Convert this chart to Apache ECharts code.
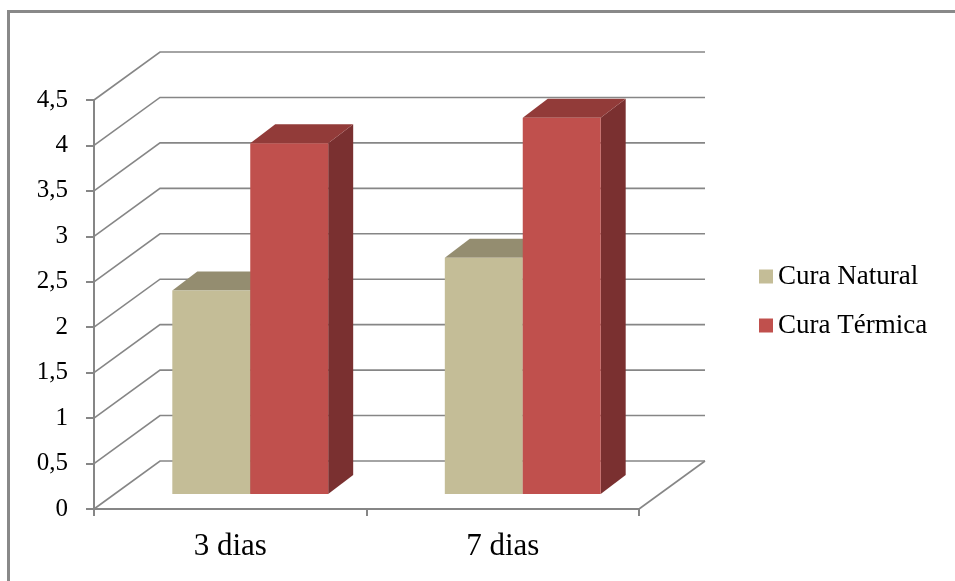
<!DOCTYPE html>
<html>
<head>
<meta charset="utf-8">
<script src="https://cdn.jsdelivr.net/npm/echarts@6/dist/echarts.min.js"></script>
<style>
  html, body { margin: 0; padding: 0; background: #fff; }
  #chart { width: 955px; height: 581px; }
</style>
</head>
<body>
<div id="chart"></div>
<script>
// data
var categories = ['3 dias', '7 dias'];
var curaNatural = [2.24, 2.6];
var curaTermica = [3.86, 4.14];
var yTicks = [0, 0.5, 1, 1.5, 2, 2.5, 3, 3.5, 4, 4.5];
var seriesNames = ['Cura Natural', 'Cura Térmica'];

// oblique 3d look (like the old Excel charts)
var DEPTH_X = 66, DEPTH_Y = -48;       // front plane -> back wall
var BAR_SHIFT_X = 20, BAR_SHIFT_Y = -15; // front plane -> bar front face
var BAR_DX = 25, BAR_DY = -19;         // depth of a bar
var GRID_COLOR = '#868686';

var colors = {
    natural: { front: '#c4bd97', top: '#948d70', side: '#7f7a5f' },
    termica: { front: '#c0504d', top: '#923b39', side: '#7a3030' }
};

document.addEventListener('DOMContentLoaded', function () {
    var chartDom = document.getElementById('chart');
    var myChart = echarts.init(chartDom);

    // back wall lines + diagonals, one item per y tick
    function renderWall(params, api) {
        var cs = params.coordSys;
        var v = api.value(1);
        var y = api.coord([0, v])[1];
        var x0 = cs.x, x1 = cs.x + cs.width;
        var children = [{
            type: 'polyline',
            shape: { points: [[x0, y], [x0 + DEPTH_X, y + DEPTH_Y], [x1 + DEPTH_X, y + DEPTH_Y]] },
            style: { stroke: GRID_COLOR, lineWidth: 1.6, fill: null }
        }];
        if (v === 0) {
            children.push({
                type: 'line',
                shape: { x1: x1, y1: y, x2: x1 + DEPTH_X, y2: y + DEPTH_Y },
                style: { stroke: GRID_COLOR, lineWidth: 1.6 }
            });
        }
        return { type: 'group', children: children };
    }

    function makeBarRenderer(slot, c) {
        return function (params, api) {
            var idx = api.value(0);
            var val = api.value(1);
            var band = api.size([1, 0])[0];
            var barW = band * 0.286;
            var center = api.coord([idx, 0])[0] + BAR_SHIFT_X;
            var yb = api.coord([idx, 0])[1] + BAR_SHIFT_Y;
            var yt = api.coord([idx, val])[1] + BAR_SHIFT_Y;
            var xl = slot === 0 ? center - barW : center;
            var xr = xl + barW;
            return {
                type: 'group',
                children: [
                    {
                        type: 'polygon',
                        shape: { points: [[xr, yt], [xr + BAR_DX, yt + BAR_DY], [xr + BAR_DX, yb + BAR_DY], [xr, yb]] },
                        style: { fill: c.side }
                    },
                    {
                        type: 'polygon',
                        shape: { points: [[xl, yt], [xr, yt], [xr + BAR_DX, yt + BAR_DY], [xl + BAR_DX, yt + BAR_DY]] },
                        style: { fill: c.top }
                    },
                    {
                        type: 'rect',
                        shape: { x: xl, y: yt, width: barW, height: yb - yt },
                        style: { fill: c.front }
                    }
                ]
            };
        };
    }

    var option = {
        animation: false,
        backgroundColor: '#fff',
        textStyle: { fontFamily: 'Liberation Serif' },
        graphic: [{
            type: 'rect',
            shape: { x: 8.5, y: 11.5, width: 1000, height: 620 },
            style: { fill: null, stroke: '#898989', lineWidth: 3 },
            silent: true
        }],
        grid: { left: 94, top: 100, width: 545, height: 409 },
        legend: {
            data: seriesNames,
            orient: 'vertical',
            left: 754,
            top: 258,
            icon: 'rect',
            itemWidth: 14,
            itemHeight: 14,
            itemGap: 22,
            textStyle: { fontFamily: 'Liberation Serif', fontSize: 27, lineHeight: 27, color: '#000' }
        },
        xAxis: {
            type: 'category',
            data: categories,
            axisLine: { lineStyle: { color: GRID_COLOR, width: 2 } },
            axisTick: { show: true, length: 7, lineStyle: { color: GRID_COLOR, width: 2 } },
            axisLabel: { fontFamily: 'Liberation Serif', fontSize: 31, color: '#000', margin: 22 },
            splitLine: { show: false }
        },
        yAxis: {
            type: 'value',
            min: 0,
            max: 4.5,
            interval: 0.5,
            axisLine: { show: true, lineStyle: { color: GRID_COLOR, width: 2 } },
            axisTick: { show: true, length: 8, lineStyle: { color: GRID_COLOR, width: 2 } },
            axisLabel: {
                fontFamily: 'Liberation Serif', fontSize: 25, color: '#000', margin: 26,
                formatter: function (v) { return String(v).replace('.', ','); }
            },
            splitLine: { show: false }
        },
        series: [
            {
                type: 'custom',
                name: 'wall',
                silent: true,
                z: 1,
                renderItem: renderWall,
                data: yTicks.map(function (t) { return [0, t]; })
            },
            {
                type: 'custom',
                name: seriesNames[0],
                z: 2,
                itemStyle: { color: colors.natural.front },
                renderItem: makeBarRenderer(0, colors.natural),
                data: curaNatural.map(function (v, i) { return [i, v]; })
            },
            {
                type: 'custom',
                name: seriesNames[1],
                z: 2,
                itemStyle: { color: colors.termica.front },
                renderItem: makeBarRenderer(1, colors.termica),
                data: curaTermica.map(function (v, i) { return [i, v]; })
            }
        ]
    };
    myChart.setOption(option);
});
</script>
</body>
</html>
